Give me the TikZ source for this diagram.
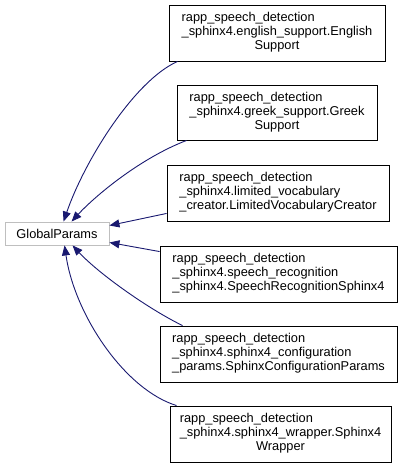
\documentclass[tikz,border=0pt]{standalone}
\usepackage{fontspec}
\setmainfont{Liberation Sans}
\usetikzlibrary{arrows.meta}
\definecolor{edgeblue}{HTML}{191970}
\definecolor{lightframe}{HTML}{BFBFBF}
\newcommand{\cls}[3]{\begin{tabular}{@{}l@{}}#1\\#2\\\multicolumn{1}{@{}c@{}}{#3}\end{tabular}}
\newcommand{\clsl}[3]{\begin{tabular}{@{}l@{}}#1\\#2\\#3\end{tabular}}
\begin{document}
\begin{tikzpicture}[x=1pt,y=-1pt,
  box/.style={draw=black, line width=0.9pt, fill=white, inner sep=0pt, minimum height=56pt,
    font=\fontsize{12.8}{14}\selectfont},
  base/.style={draw=lightframe, line width=0.9pt, fill=white, inner sep=0pt, minimum width=104pt, minimum height=23pt,
    font=\fontsize{12.8}{14}\selectfont},
  edge/.style={draw=edgeblue, line width=0.9pt, -{Triangle[length=10pt,width=8pt]}}]
\useasboundingbox (0,0) rectangle (403,465);
\node[base] (g) at (57,233.5) {GlobalParams};
\node[box, minimum width=216pt] (b1) at (277,33) {\cls{rapp\_speech\_detection}{\_sphinx4.english\_support.English}{Support}};
\node[box, minimum width=200pt, minimum height=55pt] (b2) at (277,112.5) {\cls{rapp\_speech\_detection}{\_sphinx4.greek\_support.Greek}{Support}};
\node[box, minimum width=222pt] (b3) at (278,193) {\clsl{rapp\_speech\_detection}{\_sphinx4.limited\_vocabulary}{\_creator.LimitedVocabularyCreator}};
\node[box, minimum width=237pt] (b4) at (278.5,274) {\clsl{rapp\_speech\_detection}{\_sphinx4.speech\_recognition}{\_sphinx4.SpeechRecognitionSphinx4}};
\node[box, minimum width=237pt] (b5) at (278.5,354) {\clsl{rapp\_speech\_detection}{\_sphinx4.sphinx4\_configuration}{\_params.SphinxConfigurationParams}};
\node[box, minimum width=221pt] (b6) at (280.5,434) {\cls{rapp\_speech\_detection}{\_sphinx4.sphinx4\_wrapper.Sphinx4}{Wrapper}};
% edges
\draw[edge] ([xshift=9pt]b1.south west) .. controls +(-43,19) and +(21,-61) .. ([xshift=59pt]g.north west);
\draw[edge] ([xshift=10pt]b2.south west) .. controls +(-47,18) and +(23,-25) .. ([xshift=67pt]g.north west);
\draw[edge] ([yshift=8pt]b3.south west) -- ([yshift=8pt]g.east);
\draw[edge] ([yshift=-6pt]b4.north west) -- ([yshift=-9pt]g.east);
\draw[edge] ([xshift=23pt]b5.north west) .. controls +(-33,-16) and +(27,29) .. ([xshift=68pt]g.south west);
\draw[edge] ([xshift=7pt]b6.north west) .. controls +(-52,-16) and +(10,69) .. ([xshift=60pt]g.south west);
\end{tikzpicture}
\end{document}
